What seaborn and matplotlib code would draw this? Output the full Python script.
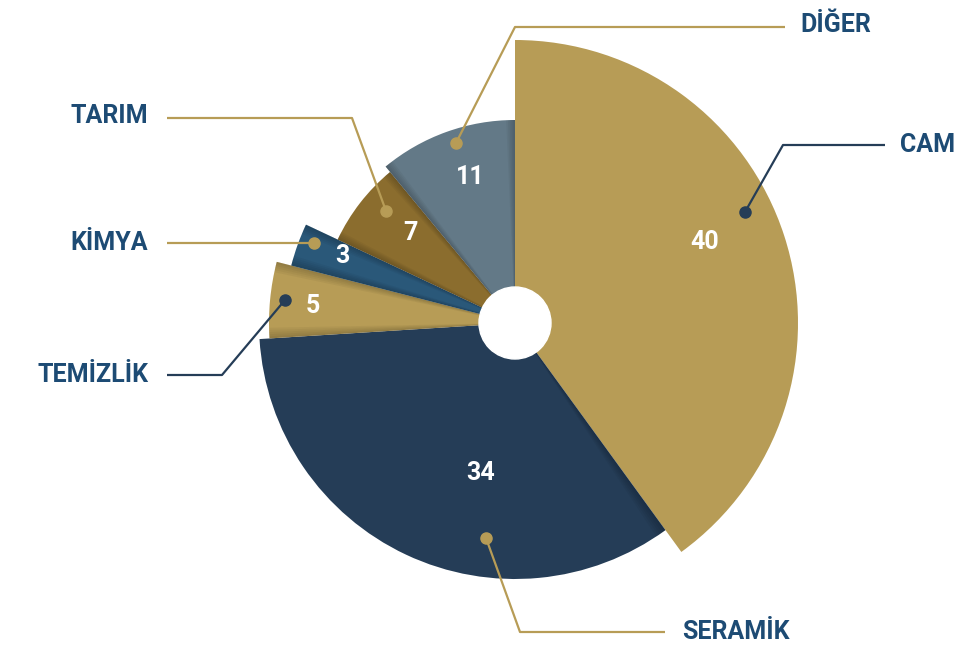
import matplotlib
matplotlib.use("Agg")
import matplotlib.pyplot as plt
import seaborn as sns
from matplotlib.patches import Wedge, Circle

# ---- data ----
categories = ["CAM", "SERAMİK", "TEMİZLİK", "KİMYA", "TARIM", "DİĞER"]
values = [40, 34, 5, 3, 7, 11]
colors = ["#b79c56", "#253d57", "#b79c56", "#2a5879", "#8b6d2e", "#637987"]

# ---- layout (pixel space, y measured from top) ----
W, H = 973, 648
center_px = (515, 323)
radii_px = [283, 256, 246, 231, 196, 203]
hole_px = 36
value_pos = [(705, 242), (481, 473), (313, 306), (342, 256), (410, 233), (470, 177)]
leader_paths = [
    [(745, 212), (783, 145), (885, 145)],
    [(486, 538), (520, 632), (665, 632)],
    [(285, 300), (222, 375), (167, 375)],
    [(314, 243), (167, 243)],
    [(386, 211), (352, 118), (167, 118)],
    [(456, 143), (515, 27), (785, 27)],
]
label_pos = [(900, 145, "left"), (682, 632, "left"), (148, 375, "right"),
             (148, 243, "right"), (148, 116, "right"), (800, 25, "left")]
leader_colors = ["#253d57", "#b79c56", "#253d57", "#b79c56", "#b79c56", "#b79c56"]
label_color = "#1d4b74"
# which edges get a soft inner shadow: (low-angle edge, high-angle edge)
shade_edges = [(False, False), (False, True), (True, True),
               (True, True), (True, True), (True, True)]

sns.set_theme(style="white")
plt.rcParams["font.family"] = ["Roboto", "DejaVu Sans"]


def P(x, y):
    return (x, H - y)


fig = plt.figure(figsize=(W / 100, H / 100), dpi=100)
ax = fig.add_axes([0, 0, 1, 1])
cx, cy = P(*center_px)

wedges, _ = ax.pie(values, startangle=90, counterclock=False, colors=colors,
                   center=(cx, cy), radius=1, wedgeprops=dict(linewidth=0))
for w, r in zip(wedges, radii_px):
    w.set_radius(r)

# soft shading along slice edges
for w, r, (lo, hi) in zip(wedges, radii_px, shade_edges):
    t1, t2 = w.theta1, w.theta2
    for k in range(5):
        d = 0.5 * (k + 1)
        if lo:
            ax.add_patch(Wedge((cx, cy), r, t1, t1 + d, color="black", alpha=0.04, lw=0, zorder=2))
        if hi:
            ax.add_patch(Wedge((cx, cy), r, t2 - d, t2, color="black", alpha=0.04, lw=0, zorder=2))

ax.add_patch(Circle((cx, cy), hole_px, color="white", zorder=3))

for v, (x, y) in zip(values, value_pos):
    ax.text(*P(x, y), str(v), color="white", fontsize=18, fontweight="bold",
            ha="center", va="center", zorder=5)

for path, col in zip(leader_paths, leader_colors):
    xs = [P(x, y)[0] for x, y in path]
    ys = [P(x, y)[1] for x, y in path]
    ax.plot(xs, ys, color=col, lw=1.6, zorder=4, solid_capstyle="butt")
    ax.plot(xs[0], ys[0], "o", color=col, ms=8, zorder=4)

for cat, (x, y, ha) in zip(categories, label_pos):
    ax.text(*P(x, y), cat, color=label_color, fontsize=18, fontweight="bold",
            ha=ha, va="center", zorder=5)

ax.set_xlim(0, W)
ax.set_ylim(0, H)
ax.set_aspect("equal")
ax.axis("off")
fig.savefig("out.png", dpi=100, facecolor="white")
